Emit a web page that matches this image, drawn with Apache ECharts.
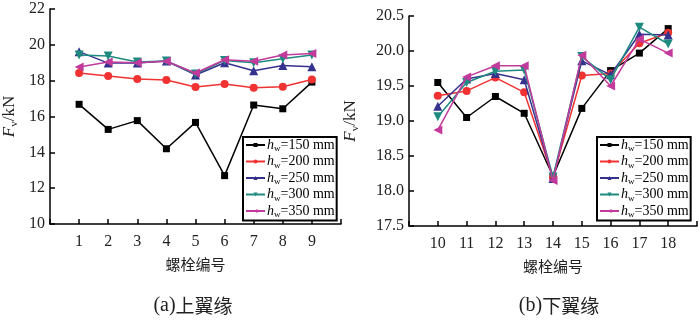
<!DOCTYPE html>
<html>
<head>
<meta charset="utf-8">
<script src="https://cdn.jsdelivr.net/npm/echarts@6/dist/echarts.min.js"></script>
<style>
  html, body { margin: 0; padding: 0; background: #fff; }
  #chart { width: 700px; height: 320px; }
</style>
</head>
<body>
<div id="chart"></div>
<script>
// 螺栓编号
const boltsTop = [1, 2, 3, 4, 5, 6, 7, 8, 9]
const boltsBottom = [10, 11, 12, 13, 14, 15, 16, 17, 18]

const seriesNames = ['150', '200', '250', '300', '350']

// (a) 上翼缘
const top150 = [16.68, 15.28, 15.77, 14.20, 15.67, 12.70, 16.64, 16.43, 17.92]
const top200 = [18.43, 18.26, 18.09, 18.04, 17.65, 17.81, 17.61, 17.66, 18.06]
const top250 = [19.62, 18.98, 18.99, 19.10, 18.32, 19.00, 18.55, 18.85, 18.78]
const top300 = [19.43, 19.38, 19.04, 19.10, 18.37, 19.13, 19.00, 19.22, 19.43]
const top350 = [18.76, 19.04, 19.00, 19.08, 18.43, 19.17, 19.08, 19.43, 19.52]

// (b) 下翼缘
const bot150 = [19.55, 19.05, 19.35, 19.11, 18.21, 19.18, 19.72, 19.97, 20.32]
const bot200 = [19.36, 19.43, 19.62, 19.41, 18.20, 19.65, 19.68, 20.11, 20.26]
const bot250 = [19.21, 19.60, 19.68, 19.59, 18.18, 19.86, 19.66, 20.24, 20.23]
const bot300 = [19.06, 19.55, 19.71, 19.73, 18.20, 19.92, 19.59, 20.34, 20.10]
const bot350 = [18.87, 19.63, 19.79, 19.79, 18.15, 19.94, 19.50, 20.17, 19.97]

const colors = ['#000000', '#f03232', '#35328e', '#1f8a80', '#c23a9c']
const symbols = [
  'rect', 'circle', 'triangle',
  'path://M0,0 L10,0 L5,9 Z',
  'path://M9,0 L9,10 L0,5 Z'
]
const symbolSizes = [7, 8, 9, 9, 9]

const serif = '"Liberation Serif", "DejaVu Serif", serif'
const cjk = '"Noto Sans CJK SC", sans-serif'

const chart = echarts.init(document.getElementById('chart'))

function makeSeries(datasets, xs, idx) {
  return datasets.map((vals, i) => ({
    name: 'h' + seriesNames[i] + '_' + idx,
    type: 'line',
    xAxisIndex: idx,
    yAxisIndex: idx,
    data: xs.map((x, j) => [x, vals[j]]),
    symbol: symbols[i],
    symbolSize: symbolSizes[i],
    lineStyle: { color: colors[i], width: 1.5 },
    itemStyle: { color: colors[i] },
    z: 2 + i
  }))
}

const legendRich = {
  i: { fontFamily: serif, fontStyle: 'italic', fontSize: 14, color: '#000' },
  s: { fontFamily: serif, fontSize: 9, color: '#000', padding: [8, 0, 0, 0] },
  t: { fontFamily: serif, fontSize: 14, color: '#000' }
}

function makeLegend(idx, left) {
  return {
    data: seriesNames.map(n => 'h' + n + '_' + idx),
    orient: 'vertical',
    left: left,
    top: 137,
    itemWidth: 19,
    itemHeight: 5,
    itemGap: 1,
    padding: [1, 2, 1, 2],
    borderColor: '#000',
    borderWidth: 2,
    backgroundColor: '#fff',
    selectedMode: false,
    formatter: name => '{i|h}{s|w}{t|=' + name.slice(1).split('_')[0] + ' mm}',
    textStyle: { rich: legendRich, lineHeight: 14, padding: [0, 0, 0, -3] }
  }
}

const axisLine = { show: true, lineStyle: { color: '#000', width: 1.5 } }
const axisTick = { show: true, inside: true, length: 5, lineStyle: { color: '#000', width: 1.5 } }
const labelStyle = { fontFamily: serif, fontSize: 16, color: '#222' }

function xAxis(idx, min, max, labels) {
  return {
    type: 'value',
    gridIndex: idx,
    min: min,
    max: max,
    interval: 1,
    axisLine: axisLine,
    axisTick: axisTick,
    splitLine: { show: false },
    axisLabel: Object.assign({}, labelStyle, {
      margin: 10,
      formatter: v => (labels.indexOf(v) >= 0 ? String(v) : '')
    }),
    name: '螺栓编号',
    nameLocation: 'middle',
    nameGap: 33,
    nameTextStyle: { fontFamily: cjk, fontSize: 15, color: '#222' }
  }
}

function yAxis(idx, min, max, interval, digits, gap) {
  return {
    type: 'value',
    gridIndex: idx,
    min: min,
    max: max,
    interval: interval,
    axisLine: axisLine,
    axisTick: axisTick,
    splitLine: { show: false },
    axisLabel: Object.assign({}, labelStyle, {
      margin: 5,
      formatter: v => v.toFixed(digits)
    }),
    name: '{i|F}{s|v}{t|/kN}',
    nameLocation: 'middle',
    nameGap: gap,
    nameRotate: 90,
    nameTextStyle: {
      rich: {
        i: { fontFamily: serif, fontStyle: 'italic', fontSize: 17, color: '#222' },
        s: { fontFamily: serif, fontSize: 11, color: '#222', padding: [10, 0, 0, 0] },
        t: { fontFamily: serif, fontSize: 17, color: '#222' }
      }
    }
  }
}

const titleRich = {
  a: { fontFamily: serif, fontSize: 20, fontWeight: 'normal', color: '#222' },
  c: { fontFamily: cjk, fontSize: 19, fontWeight: 'normal', color: '#222' }
}

const option = {
  animation: false,
  title: [
    {
      text: '{a|(a)}{c|上翼缘}',
      left: 188, top: 291, textAlign: 'center',
      textStyle: { fontWeight: 'normal', rich: titleRich }
    },
    {
      text: '{a|(b)}{c|下翼缘}',
      left: 554, top: 291, textAlign: 'center',
      textStyle: { fontWeight: 'normal', rich: titleRich }
    }
  ],
  grid: [
    { left: 45, top: 9, width: 296, height: 215 },
    { left: 409, top: 16, width: 290, height: 210 }
  ],
  legend: [makeLegend(0, 243), makeLegend(1, 597)],
  xAxis: [xAxis(0, 0, 10, boltsTop), xAxis(1, 9, 19, boltsBottom)],
  yAxis: [yAxis(0, 10, 22, 2, 0, 30), yAxis(1, 17.5, 20.5, 0.5, 1, 48)],
  series: [
    ...makeSeries([top150, top200, top250, top300, top350], boltsTop, 0),
    ...makeSeries([bot150, bot200, bot250, bot300, bot350], boltsBottom, 1)
  ]
}

chart.setOption(option)
</script>
</body>
</html>
